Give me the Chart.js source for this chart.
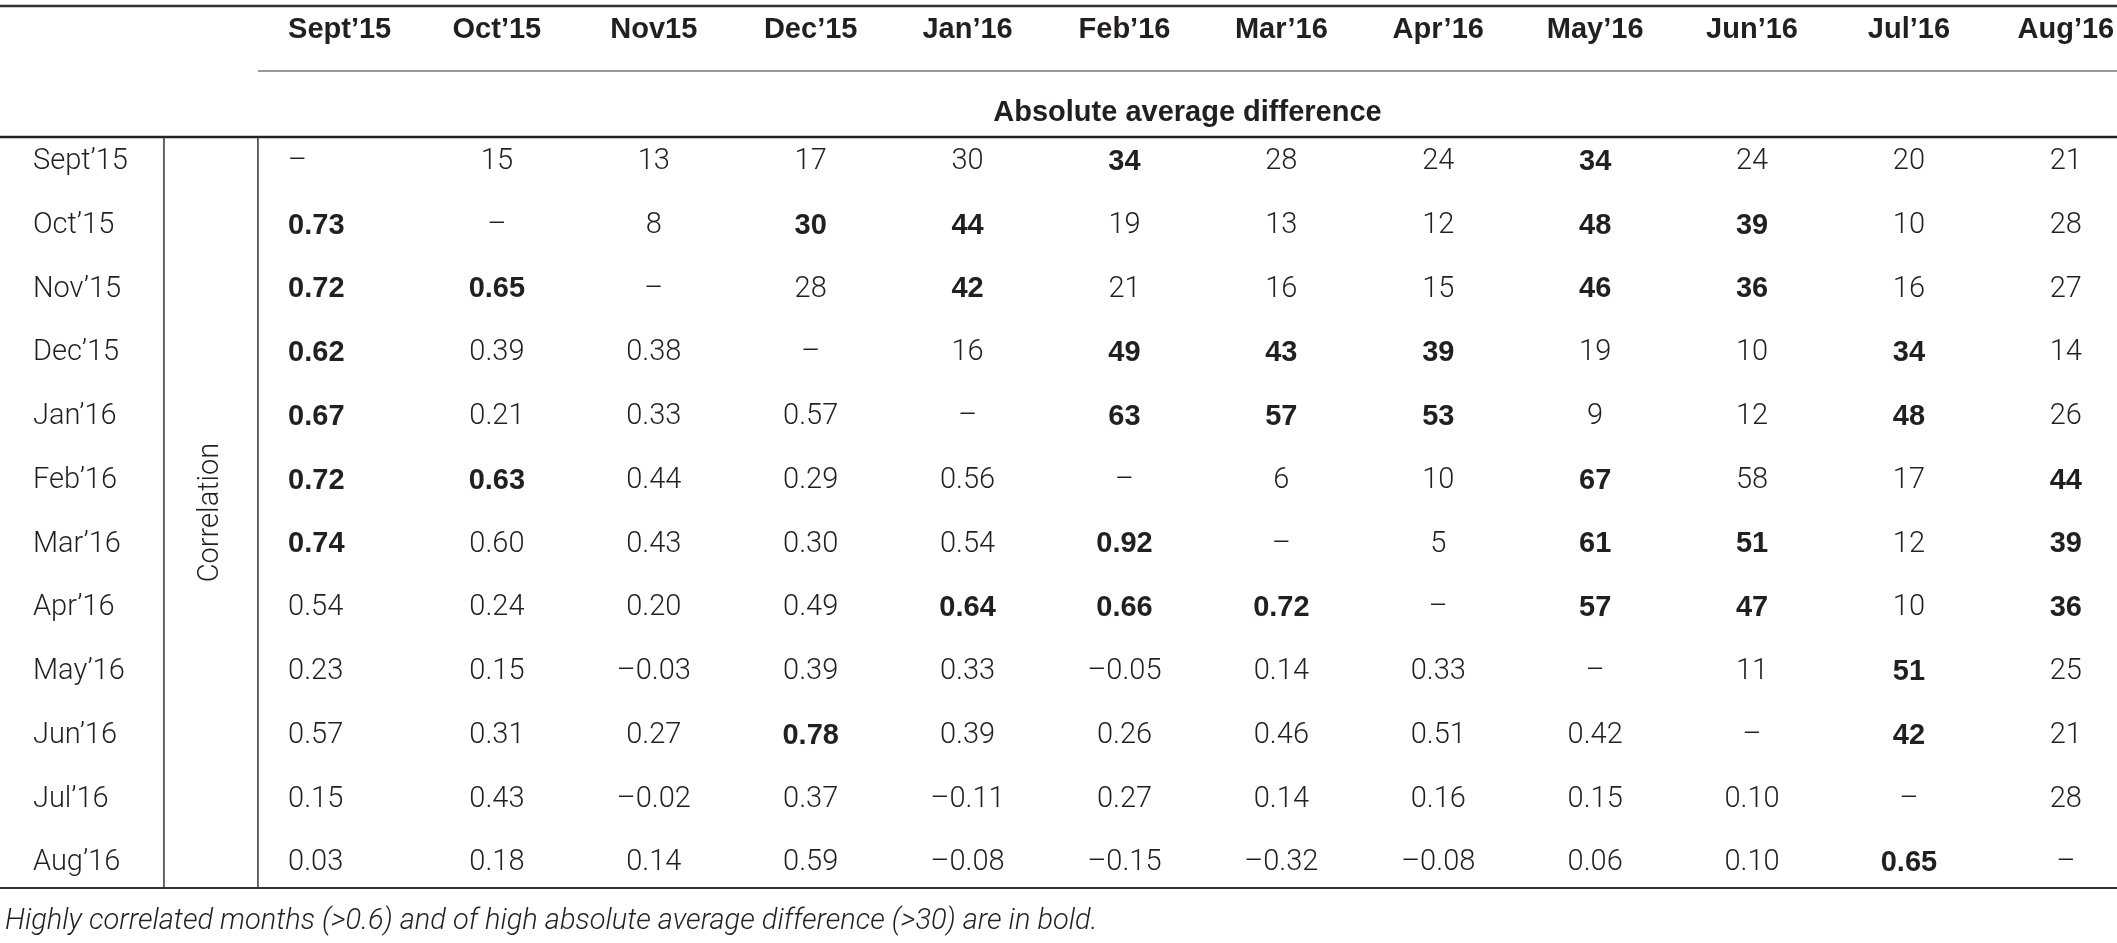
<html lang="en">
<head>
    <meta charset="UTF-8">
    <title>Correlation and absolute average difference between months</title>
    <script src="https://cdn.jsdelivr.net/npm/chart.js"></script>
    <style>
        body { margin: 0; background: #fff; }
    </style>
</head>
<body>
    <canvas id="tableChart" width="2117" height="943"></canvas>

    <script>
        // Column headers and row labels (as printed)
        const colLabels = ['Sept’15', 'Oct’15', 'Nov15', 'Dec’15', 'Jan’16', 'Feb’16',
                           'Mar’16', 'Apr’16', 'May’16', 'Jun’16', 'Jul’16', 'Aug’16'];
        const rowLabels = ['Sept’15', 'Oct’15', 'Nov’15', 'Dec’15', 'Jan’16', 'Feb’16',
                           'Mar’16', 'Apr’16', 'May’16', 'Jun’16', 'Jul’16', 'Aug’16'];

        // Upper triangle: absolute average difference, lower triangle: correlation
        const values = [
            [null, 15, 13, 17, 30, 34, 28, 24, 34, 24, 20, 21],
            [0.73, null, 8, 30, 44, 19, 13, 12, 48, 39, 10, 28],
            [0.72, 0.65, null, 28, 42, 21, 16, 15, 46, 36, 16, 27],
            [0.62, 0.39, 0.38, null, 16, 49, 43, 39, 19, 10, 34, 14],
            [0.67, 0.21, 0.33, 0.57, null, 63, 57, 53, 9, 12, 48, 26],
            [0.72, 0.63, 0.44, 0.29, 0.56, null, 6, 10, 67, 58, 17, 44],
            [0.74, 0.60, 0.43, 0.30, 0.54, 0.92, null, 5, 61, 51, 12, 39],
            [0.54, 0.24, 0.20, 0.49, 0.64, 0.66, 0.72, null, 57, 47, 10, 36],
            [0.23, 0.15, -0.03, 0.39, 0.33, -0.05, 0.14, 0.33, null, 11, 51, 25],
            [0.57, 0.31, 0.27, 0.78, 0.39, 0.26, 0.46, 0.51, 0.42, null, 42, 21],
            [0.15, 0.43, -0.02, 0.37, -0.11, 0.27, 0.14, 0.16, 0.15, 0.10, null, 28],
            [0.03, 0.18, 0.14, 0.59, -0.08, -0.15, -0.32, -0.08, 0.06, 0.10, 0.65, null]
        ];

        // Cells printed in bold in the source table
        const boldCells = [
            [0, 0, 0, 0, 0, 1, 0, 0, 1, 0, 0, 0],
            [1, 0, 0, 1, 1, 0, 0, 0, 1, 1, 0, 0],
            [1, 1, 0, 0, 1, 0, 0, 0, 1, 1, 0, 0],
            [1, 0, 0, 0, 0, 1, 1, 1, 0, 0, 1, 0],
            [1, 0, 0, 0, 0, 1, 1, 1, 0, 0, 1, 0],
            [1, 1, 0, 0, 0, 0, 0, 0, 1, 0, 0, 1],
            [1, 0, 0, 0, 0, 1, 0, 0, 1, 1, 0, 1],
            [0, 0, 0, 0, 1, 1, 1, 0, 1, 1, 0, 1],
            [0, 0, 0, 0, 0, 0, 0, 0, 0, 0, 1, 0],
            [0, 0, 0, 1, 0, 0, 0, 0, 0, 0, 1, 0],
            [0, 0, 0, 0, 0, 0, 0, 0, 0, 0, 0, 0],
            [0, 0, 0, 0, 0, 0, 0, 0, 0, 0, 1, 0]
        ];

        const groupTitle = 'Absolute average difference';
        const sideTitle = 'Correlation';
        const footnote = 'Highly correlated months (>0.6) and of high absolute average difference (>30) are in bold.';

        // Format a cell: diagonal dash, integers above, 2 decimals below
        function cellText(r, c) {
            const v = values[r][c];
            if (v === null) return '–';
            if (c > r) return String(v);
            return v.toFixed(2).replace('-', '–');
        }

        const points = [];
        for (let r = 0; r < rowLabels.length; r++) {
            for (let c = 0; c < colLabels.length; c++) {
                points.push({ x: c, y: r, text: cellText(r, c), bold: boldCells[r][c] === 1 });
            }
        }

        const LIGHT = '300 29px Roboto, "Liberation Sans", sans-serif';
        const BOLD = 'bold 29px "Liberation Sans", Arial, sans-serif';
        const INK = '#231f20';

        // Positions in scale units (columns / rows)
        const firstColLeft = -0.331;  // first data column is left aligned
        const rowLabelX = -1.957;
        const vLine1 = -1.122;
        const vLine2 = -0.523;
        const headerY = -2.071;
        const topRuleY = -2.448;
        const subRuleY = -1.428;
        const groupY = -0.769;
        const midRuleY = -0.392;
        const bottomRuleY = 11.392;
        const footY = 11.925;

        const tablePlugin = {
            id: 'tablePlugin',
            afterDatasetsDraw(chart) {
                const ctx = chart.ctx;
                const xs = chart.scales.x;
                const ys = chart.scales.y;
                const X = v => xs.getPixelForValue(v);
                const Y = v => ys.getPixelForValue(v);

                function hline(y, x0, x1, w, color) {
                    ctx.beginPath();
                    ctx.moveTo(x0, y);
                    ctx.lineTo(x1, y);
                    ctx.lineWidth = w;
                    ctx.strokeStyle = color;
                    ctx.stroke();
                }
                function vline(x, y0, y1, w, color) {
                    ctx.beginPath();
                    ctx.moveTo(x, y0);
                    ctx.lineTo(x, y1);
                    ctx.lineWidth = w;
                    ctx.strokeStyle = color;
                    ctx.stroke();
                }

                ctx.save();
                // rules
                hline(Y(topRuleY), xs.left, xs.right, 2.5, '#333');
                hline(Y(subRuleY), X(vLine2), xs.right, 1.5, '#777');
                hline(Y(midRuleY), xs.left, xs.right, 2.5, '#222');
                hline(Y(bottomRuleY), xs.left, xs.right, 2, '#333');
                vline(X(vLine1), Y(midRuleY), Y(bottomRuleY), 1.5, '#333');
                vline(X(vLine2), Y(midRuleY), Y(bottomRuleY), 1.5, '#333');

                ctx.fillStyle = INK;
                ctx.textBaseline = 'middle';

                // column headers
                ctx.font = BOLD;
                colLabels.forEach((lab, c) => {
                    ctx.textAlign = c === 0 ? 'left' : 'center';
                    ctx.fillText(lab, c === 0 ? X(firstColLeft) : X(c), Y(headerY));
                });

                // group title
                ctx.textAlign = 'center';
                ctx.fillText(groupTitle, (X(vLine2) + xs.right) / 2, Y(groupY));

                // row labels
                ctx.font = LIGHT;
                ctx.textAlign = 'left';
                rowLabels.forEach((lab, r) => ctx.fillText(lab, X(rowLabelX), Y(r)));

                // rotated side title
                ctx.save();
                ctx.translate(X((vLine1 + vLine2) / 2), Y((rowLabels.length - 1) / 2));
                ctx.rotate(-Math.PI / 2);
                ctx.textAlign = 'center';
                ctx.fillText(sideTitle, 0, 0);
                ctx.restore();

                // cells, placed at each point of the dataset
                const meta = chart.getDatasetMeta(0);
                meta.data.forEach((el, i) => {
                    const p = points[i];
                    ctx.font = p.bold ? BOLD : LIGHT;
                    if (p.x === 0) {
                        ctx.textAlign = 'left';
                        ctx.fillText(p.text, X(firstColLeft), el.y);
                    } else {
                        ctx.textAlign = 'center';
                        ctx.fillText(p.text, el.x, el.y);
                    }
                });

                // footnote
                ctx.font = 'italic 300 29px Roboto, "Liberation Sans", sans-serif';
                ctx.textAlign = 'left';
                ctx.fillText(footnote, xs.left + 5, Y(footY));
                ctx.restore();
            }
        };

        const ctx = document.getElementById('tableChart').getContext('2d');
        new Chart(ctx, {
            type: 'scatter',
            data: {
                datasets: [{
                    data: points,
                    pointRadius: 0,
                    pointHoverRadius: 0,
                }]
            },
            options: {
                responsive: false,
                animation: false,
                devicePixelRatio: 1,
                layout: { padding: 0 },
                plugins: {
                    legend: { display: false },
                    tooltip: { enabled: false },
                },
                scales: {
                    x: { type: 'linear', min: -2.167, max: 11.326, display: false },
                    y: { type: 'linear', min: -2.542, max: 12.255, reverse: true, display: false },
                },
            },
            plugins: [tablePlugin],
        });
    </script>
</body>
</html>
